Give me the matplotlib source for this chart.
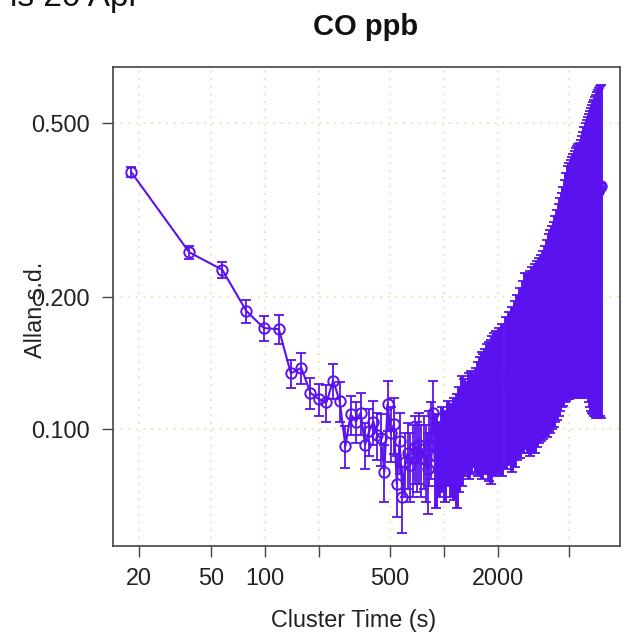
import numpy as np
import matplotlib
matplotlib.use("Agg")
import matplotlib.pyplot as plt

plt.rcParams["font.family"] = ["Liberation Sans", "DejaVu Sans"]

# cluster times (s), Allan deviation (ppb) and its error
tau = [18, 38, 58, 79, 99, 120, 140, 160, 180, 201, 221, 241, 262,
       282, 302, 323, 343, 363, 383, 404, 424, 444, 465, 485, 505, 526,
       546, 566, 587, 607, 627, 648, 668, 688, 709, 729, 749, 770, 790,
       810, 830, 851, 871,
       900, 940, 980, 1020, 1060, 1100, 1140, 1180, 1220, 1260, 1300,
       1340, 1380, 1420, 1460, 1500, 1540, 1580, 1620, 1660, 1700, 1740,
       1780, 1820, 1860, 1900, 1940, 1980,
       2030, 2120, 2210, 2300, 2390, 2480, 2570, 2660, 2750, 2840, 2930,
       3020, 3110, 3200, 3290, 3380, 3470, 3560, 3650, 3740, 3830, 3920,
       4010, 4100, 4190, 4280, 4370, 4460, 4550, 4640, 4730, 4820, 4910,
       5000, 5090, 5180, 5270, 5360, 5450, 5540, 5630, 5720, 5810, 5900,
       5990, 6080, 6170, 6260, 6350, 6440, 6530, 6620, 6710, 6800, 6890,
       6980, 7070, 7160, 7250, 7340, 7430, 7470]

adev = [0.386, 0.253, 0.231, 0.186, 0.170, 0.169, 0.134, 0.138, 0.121,
        0.117, 0.115, 0.129, 0.116,
        0.0915, 0.108, 0.104, 0.109, 0.092, 0.099, 0.104, 0.097, 0.0953,
        0.080, 0.114, 0.098, 0.1025, 0.075, 0.094, 0.070, 0.084, 0.088,
        0.083, 0.086, 0.091, 0.088, 0.092, 0.086, 0.090, 0.085, 0.081,
        0.092, 0.096, 0.109,
        0.087, 0.087, 0.092, 0.089, 0.095, 0.092, 0.0935, 0.093, 0.0985,
        0.103, 0.104, 0.104, 0.1055, 0.1075, 0.1075, 0.109, 0.110, 0.113,
        0.1135, 0.1155, 0.116, 0.1175, 0.117, 0.1175, 0.1215, 0.122,
        0.1245, 0.122,
        0.125, 0.126, 0.1305, 0.134, 0.135, 0.139, 0.1435, 0.148, 0.153,
        0.1585, 0.157, 0.1585, 0.1615, 0.163, 0.1665, 0.1695, 0.172, 0.175,
        0.1795, 0.183, 0.1885, 0.191, 0.195, 0.1985, 0.205, 0.2105, 0.2165,
        0.223, 0.2285, 0.2345, 0.2425, 0.250, 0.2575, 0.261, 0.2645, 0.268,
        0.272, 0.275, 0.2785, 0.2805, 0.283, 0.284, 0.2875, 0.2925, 0.297,
        0.3035, 0.308, 0.313, 0.3165, 0.3195, 0.3225, 0.3255, 0.3295,
        0.3325, 0.3355, 0.3395, 0.342, 0.3465, 0.350, 0.3535, 0.3565, 0.358]

err = [0.010, 0.009, 0.010, 0.011, 0.011, 0.013, 0.010, 0.011, 0.010,
       0.010, 0.011, 0.012, 0.012,
       0.010, 0.011, 0.011, 0.012, 0.011, 0.012, 0.012, 0.012, 0.013,
       0.012, 0.015, 0.014, 0.015, 0.012, 0.015, 0.012, 0.014, 0.015,
       0.015, 0.016, 0.016, 0.016, 0.017, 0.016, 0.017, 0.017, 0.017,
       0.018, 0.019, 0.020,
       0.021, 0.017, 0.020, 0.021, 0.021, 0.022, 0.0245, 0.027, 0.0265,
       0.029, 0.026, 0.024, 0.0285, 0.0285, 0.0255, 0.029, 0.032, 0.033,
       0.0365, 0.0325, 0.036, 0.0385, 0.041, 0.0425, 0.0415, 0.044,
       0.0425, 0.043,
       0.045, 0.048, 0.0495, 0.051, 0.055, 0.057, 0.0585, 0.062, 0.065,
       0.0685, 0.069, 0.0715, 0.0725, 0.075, 0.0755, 0.0765, 0.078, 0.080,
       0.0825, 0.087, 0.0895, 0.093, 0.095, 0.0975, 0.101, 0.1055, 0.1095,
       0.113, 0.1165, 0.1215, 0.1275, 0.134, 0.1405, 0.144, 0.1465, 0.150,
       0.153, 0.157, 0.1595, 0.1625, 0.164, 0.166, 0.1685, 0.1735, 0.179,
       0.1845, 0.190, 0.194, 0.1985, 0.2045, 0.2105, 0.2155, 0.2205,
       0.2245, 0.2285, 0.2325, 0.236, 0.2395, 0.244, 0.2465, 0.2495, 0.252]

x_ticks = [20, 50, 100, 200, 500, 1000, 2000, 5000]
x_labels = ["20", "50", "100", "", "500", "", "2000", ""]
y_ticks = [0.1, 0.2, 0.5]
y_labels = ["0.100", "0.200", "0.500"]

col = "#5a12ee"
W, H = 626, 637
n_sparse = 43  # beyond this the bars overlap into a solid band

fig = plt.figure(figsize=(W / 100, H / 100), dpi=100)
ax = fig.add_axes([113 / W, 1 - 546 / H, 507 / W, 479 / H])

ax.set_xscale("log")
ax.set_yscale("log")
ax.set_xlim(14.26, 9594)
ax.set_ylim(0.0541, 0.670)

for xv in x_ticks:
    ax.axvline(xv, color="#e6da98", lw=1.1, ls=(0, (1, 4)), zorder=0)
for yv in y_ticks:
    ax.axhline(yv, color="#e6da98", lw=1.1, ls=(0, (1, 4)), zorder=0)

ax.plot(tau, adev, color=col, lw=1.5, marker="o", ms=7.5, mfc="none",
        mec=col, mew=1.4, zorder=3)
ax.errorbar(tau[:n_sparse], adev[:n_sparse], yerr=err[:n_sparse],
            fmt="none", ecolor=col, elinewidth=1.3, capsize=3.8,
            capthick=1.3, zorder=3)
ax.errorbar(tau[n_sparse:], adev[n_sparse:], yerr=err[n_sparse:],
            fmt="none", ecolor=col, elinewidth=2.8, capsize=3.8,
            capthick=1.3, zorder=3)

ax.minorticks_off()
ax.set_xticks(x_ticks)
ax.set_xticklabels(x_labels)
ax.set_yticks(y_ticks)
ax.set_yticklabels(y_labels)
ax.tick_params(axis="both", length=8, width=1.0, color="#444444",
               labelsize=16.8, labelcolor="#222222")
ax.tick_params(axis="x", pad=7)
ax.tick_params(axis="y", pad=8.5)
for s in ax.spines.values():
    s.set_color("#444444")
    s.set_linewidth(1.2)

fig.text(366 / W, 1 - 27 / H, "CO ppb", ha="center", va="center",
         fontsize=21, fontweight="bold", color="#111111")
fig.text(140 / W, 1 - 6 / H, "ls 20 Apr", ha="right", va="baseline",
         fontsize=24, color="#111111")
fig.text(35 / W, 1 - 310 / H, "Allan s.d.", rotation=90, ha="center",
         va="center", fontsize=16.8, color="#222222")
fig.text(354 / W, 1 - 620 / H, "Cluster Time (s)", ha="center",
         va="center", fontsize=16.8, color="#222222")

fig.savefig("out.png", dpi=100)
